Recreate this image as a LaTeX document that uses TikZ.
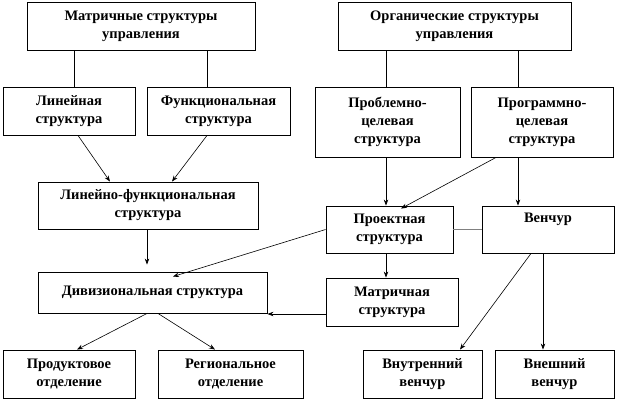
\documentclass[tikz,border=0pt]{standalone}
\usepackage{fontspec}
\setmainfont{Liberation Serif}
\usetikzlibrary{arrows.meta,calc}
\begin{document}
\begin{tikzpicture}[x=1pt,y=-1pt,
  box/.style={draw,line width=0.9pt,align=center,inner sep=0pt,
    font=\fontsize{14.5}{18}\selectfont\bfseries},
  conn/.style={line width=0.6pt},
  arr/.style={conn,-{Stealth[length=6pt,width=4.5pt]}}]
\useasboundingbox (0,0) rectangle (618,402);
\node[box,minimum width=228,minimum height=48] (m1) at (141,26) {Матричные структуры\\управления};
\node[box,minimum width=233,minimum height=48] (org) at (454.5,26) {Органические структуры\\управления};
\node[box,minimum width=132,minimum height=48] (lin) at (69,111) {Линейная\\структура};
\node[box,minimum width=143,minimum height=48] (func) at (218.5,111) {Функциональная\\структура};
\node[box,minimum width=145,minimum height=70] (probl) at (387.5,122) {Проблемно-\\целевая\\структура};
\node[box,minimum width=142,minimum height=70] (progr) at (542,122) {Программно-\\целевая\\структура};
\node[box,minimum width=220,minimum height=47] (lf) at (148,205.5) {Линейно-функциональная\\структура};
\node[box,minimum width=127,minimum height=47] (proekt) at (389.5,229.5) {Проектная\\структура};
\node[box,minimum width=132,minimum height=47] (vench) at (548,229.5) {Венчур\\\strut};
\node[box,minimum width=229,minimum height=41] (div) at (152.5,292.5) {Дивизиональная структура};
\node[box,minimum width=132,minimum height=48] (matr) at (392,302) {Матричная\\структура};
\node[box,minimum width=132,minimum height=48] (prod) at (69,374) {Продуктовое\\отделение};
\node[box,minimum width=145,minimum height=48] (reg) at (230.5,374) {Региональное\\отделение};
\node[box,minimum width=119,minimum height=48] (vnutr) at (422.5,374) {Внутренний\\венчур};
\node[box,minimum width=119,minimum height=48] (vnesh) at (554.5,374) {Внешний\\венчур};
% top links
\draw[conn] ([xshift=5]lin.north) -- ([xshift=5]lin.north |- m1.south);
\draw[conn] ([xshift=-11.5]func.north) -- ([xshift=-11.5]func.north |- m1.south);
\draw[conn] ([xshift=-1.5]probl.north) -- ([xshift=-1.5]probl.north |- org.south);
\draw[conn] ([xshift=-24]progr.north) -- ([xshift=-24]progr.north |- org.south);
% left side
\draw[arr] ([xshift=9]lin.south) -- ([xshift=-38]lf.north);
\draw[arr] ([xshift=-11.5]func.south) -- ([xshift=24]lf.north);
\draw[arr,shorten >=7pt] ([xshift=-1]lf.south) -- ([xshift=-5.5]div.north);
\coordinate (pdtip) at ([xshift=20.5,yshift=-5]div.north);
\draw[arr] (proekt.west) -- (pdtip);
\draw[arr] ([yshift=-12]matr.west) -- ([yshift=-12]matr.west -| div.east);
\draw[arr] ([xshift=-5.5]div.south) -- ([xshift=8]prod.north);
\draw[arr] ([xshift=5.5]div.south) -- ([xshift=-15.5]reg.north);
% right side
\draw[arr] ([xshift=-1.5]probl.south) -- ([xshift=-1.5]probl.south |- proekt.north);
\draw[arr] ([xshift=-46]progr.south) -- ([xshift=11.5,yshift=-3]proekt.north);
\draw[arr] ([xshift=-24]progr.south) -- ([xshift=-24]progr.south |- vench.north);
\draw[conn,gray] (proekt.east) -- (vench.west);
\draw[arr] ([xshift=-3.5]proekt.south) -- ([xshift=-3.5]proekt.south |- matr.north);
\draw[arr] ([xshift=-17]vench.south) -- ([xshift=37.5]vnutr.north);
\draw[arr] ([xshift=-5]vench.south) -- ([xshift=-5]vench.south |- vnesh.north);
\end{tikzpicture}
\end{document}
